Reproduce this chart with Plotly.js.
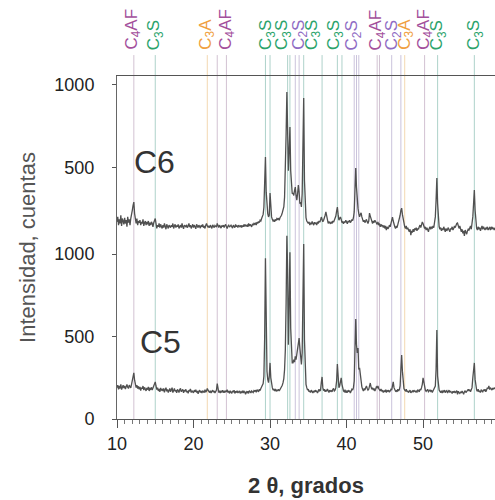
<!DOCTYPE html>
<html>
<head>
<meta charset="utf-8">
<script src="https://cdn.plot.ly/plotly-3.0.1.min.js"></script>
<style>html,body{margin:0;padding:0;background:#fff;}#chart{width:495px;height:500px;}</style>
</head>
<body>
<div id="chart"></div>
<script>
// 2θ sampling: start and step (degrees)
var thetaStart = 10.0;
var thetaStep = 0.1;

// Sample C5 (lower trace), counts, one row per degree
var c5 = [
190,205,180,200,185,210,178,195,205,188,
200,182,198,210,192,185,205,195,188,210,
230,265,280,235,200,190,205,185,198,180,
195,172,190,185,200,175,192,180,170,188,
178,195,170,185,180,192,175,188,200,215,
225,200,178,190,170,182,165,188,175,180,
170,185,162,178,190,168,180,160,175,185,
165,178,190,160,172,185,168,175,158,180,
172,160,178,185,165,170,180,158,175,168,
180,162,170,155,175,168,182,160,172,165,
158,175,165,178,160,170,152,168,175,160,
170,158,172,165,160,178,162,170,185,175,
165,160,172,158,168,175,162,170,158,166,
175,215,170,160,172,158,168,162,175,160,
168,160,172,165,178,160,170,155,168,162,
158,170,162,175,155,168,160,172,158,165,
170,155,165,160,172,158,168,162,150,165,
160,168,155,172,162,158,170,165,160,172,
168,175,162,178,170,165,180,172,185,195,
205,215,260,500,975,560,290,240,220,260,
340,250,205,190,175,180,170,182,168,175,
172,180,170,178,185,190,205,220,245,300,
420,700,1110,900,450,700,1010,550,380,340,
340,360,345,380,360,400,430,460,490,430,
360,330,400,650,1060,480,260,210,190,175,
180,165,172,160,175,168,158,170,162,175,
165,172,158,168,180,170,175,220,255,190,
172,180,165,175,168,182,170,160,175,168,
172,165,178,185,170,175,190,230,333,240,
190,200,230,250,210,180,170,165,178,160,
168,160,175,165,172,158,170,180,175,190,
230,380,606,450,400,430,300,310,260,210,
195,180,170,185,175,190,200,185,175,180,
200,218,195,180,190,175,185,170,180,195,
190,200,185,178,170,182,168,175,160,172,
165,178,160,172,168,175,162,170,180,175,
195,225,190,175,168,172,165,180,170,178,
200,300,388,290,210,185,175,170,180,165,
172,160,168,175,158,165,170,162,175,168,
165,172,160,178,170,165,180,175,190,210,
250,215,190,175,168,172,180,165,170,175,
168,175,160,172,180,190,200,300,540,260,
190,175,168,160,172,158,170,165,175,160,
168,172,158,165,175,160,170,162,155,168,
160,170,158,165,172,150,168,160,155,165,
158,170,162,150,165,172,160,168,175,180,
170,178,165,185,190,250,290,340,240,195,
175,168,180,165,172,160,175,170,165,178,
170,180,165,175,190,185,200,178,190,182,
175,188,180,190,182
];

// Sample C6 (upper trace), counts, one row per degree
var c6 = [
170,200,150,185,160,210,145,190,175,155,
195,160,180,140,200,165,185,150,190,210,
240,270,290,220,175,160,190,150,175,165,
180,150,170,160,185,145,165,175,150,170,
155,175,145,165,150,170,160,140,165,175,
190,160,130,150,140,160,135,155,145,130,
150,135,160,140,125,155,145,130,150,140,
135,150,140,160,130,145,155,135,148,140,
155,130,145,150,135,160,140,128,150,145,
140,152,135,145,160,138,150,130,145,155,
135,150,140,128,155,145,135,150,140,132,
150,140,155,135,145,130,150,160,145,138,
145,135,150,140,130,152,142,135,148,140,
138,160,145,135,150,140,132,148,140,150,
135,148,155,140,130,145,150,138,142,150,
140,132,150,145,135,155,140,148,135,150,
145,138,150,135,148,140,155,142,150,145,
150,140,160,145,155,148,140,158,150,160,
155,165,150,168,160,172,165,180,175,190,
200,215,260,380,563,350,240,220,200,210,
345,260,200,185,175,180,170,185,178,190,
185,192,180,195,200,210,225,240,260,320,
450,700,957,650,480,600,745,480,360,340,
345,330,360,381,330,302,340,393,350,280,
290,260,340,650,920,420,240,195,175,165,
160,170,150,165,155,172,160,150,168,158,
165,150,170,160,175,168,180,199,185,170,
180,190,210,230,200,170,160,172,165,158,
170,160,175,168,180,190,205,235,260,215,
180,190,199,185,165,170,158,172,165,180,
170,158,175,168,180,165,172,185,178,195,
230,340,496,380,300,250,220,200,215,225,
200,185,170,180,165,175,185,170,160,175,
223,205,185,170,160,175,165,180,170,160,
155,169,150,160,140,155,145,150,135,148,
130,145,120,140,128,135,150,140,160,175,
199,175,150,140,130,145,135,150,165,180,
210,240,253,215,180,150,140,130,145,125,
135,120,110,125,90,115,105,125,110,130,
120,135,115,130,125,140,150,135,160,169,
160,145,130,140,120,135,125,110,130,140,
125,140,130,145,135,160,200,300,436,280,
180,140,125,135,115,130,120,140,125,110,
130,115,125,135,120,110,130,125,140,120,
130,145,135,150,160,163,140,130,145,120,
110,125,100,115,85,120,105,95,115,125,
120,130,145,125,150,200,280,363,240,160,
130,120,140,125,135,115,130,145,125,140,
130,120,135,125,140,120,130,135,120,140,
125,135,130,120,135
];

// vertical shift of the C6 pattern on the shared axis
var c6Offset = 1025;

// y tick values and labels
var yTickVals = [0, 500, 1000, 1525, 2025];
var yTickText = ["0", "500", "1000", "500", "1000"];

// phase reference lines (2θ) and their phase
var phaseLineX = [12.2, 15.0, 21.8, 23.1, 24.3, 29.4, 30.0, 32.3, 32.6, 33.3, 33.8, 34.4, 36.8, 38.8, 39.4, 41.0, 41.3, 41.6, 44.0, 44.3, 45.9, 47.1, 47.6, 50.2, 51.9, 56.7];
var phaseLineType = ["C4AF","C3S","C3A","C4AF","C4AF","C3S","C3S","C3S","C3S","C2S","C2S","C3S","C3S","C3S","C3S","C2S","C2S","C2S","C4AF","C4AF","C2S","C2S","C3A","C4AF","C3S","C3S"];

// phase labels at top
var phaseLabelX = [12.1, 15.0, 21.8, 24.4, 29.6, 31.7, 33.9, 35.6, 38.5, 40.9, 44.1, 46.1, 47.8, 50.3, 52.0, 56.8];
var phaseLabelType = ["C4AF","C3S","C3A","C4AF","C3S","C3S","C2S","C3S","C3S","C2S","C4AF","C2S","C3A","C4AF","C3S","C3S"];

var phaseText = {C4AF: "C<sub>4</sub>AF", C3S: "C<sub>3</sub>S", C3A: "C<sub>3</sub>A", C2S: "C<sub>2</sub>S"};
var phaseColor = {C4AF: "#a3509c", C3S: "#2ba36b", C3A: "#f0a040", C2S: "#8f6cc4"};
var phaseLineColor = {C4AF: "#d2c2d2", C3S: "#aed2ca", C3A: "#f3d8b2", C2S: "#cbc3dc"};

var c6Shifted = c6.map(function (v) { return v + c6Offset; });

var FONT = "Arial, 'Liberation Sans', sans-serif";

var traces = [
  {type: "scatter", mode: "lines", x0: thetaStart, dx: thetaStep, y: c5,
   line: {color: "#505050", width: 1.3}, hoverinfo: "skip", showlegend: false},
  {type: "scatter", mode: "lines", x0: thetaStart, dx: thetaStep, y: c6Shifted,
   line: {color: "#505050", width: 1.3}, hoverinfo: "skip", showlegend: false}
];

var shapes = phaseLineX.map(function (x, i) {
  return {type: "line", xref: "x", yref: "paper", x0: x, x1: x, y0: 0, y1: 1.061,
          line: {color: phaseLineColor[phaseLineType[i]], width: 1}, layer: "below"};
});

var annotations = phaseLabelX.map(function (x, i) {
  return {xref: "x", yref: "paper", x: x, y: 1.07, xanchor: "center", yanchor: "bottom",
          text: phaseText[phaseLabelType[i]], textangle: -90, showarrow: false,
          font: {family: FONT, size: 17, color: phaseColor[phaseLabelType[i]]}};
});
annotations.push({xref: "paper", yref: "y", x: 0.1, y: 1560, text: "C6", showarrow: false,
  xanchor: "center", yanchor: "middle", font: {family: FONT, size: 32, color: "#333"}});
annotations.push({xref: "paper", yref: "y", x: 0.115, y: 465, text: "C5", showarrow: false,
  xanchor: "center", yanchor: "middle", font: {family: FONT, size: 32, color: "#333"}});

var layout = {
  width: 495, height: 500,
  margin: {l: 117, r: 0, t: 76, b: 81, pad: 0},
  paper_bgcolor: "#fff", plot_bgcolor: "#fff",
  showlegend: false,
  font: {family: FONT, color: "#222"},
  xaxis: {
    range: [10, 59.4], tickvals: [10, 20, 30, 40, 50], ticktext: ["10", "20", "30", "40", "50"],
    ticks: "outside", ticklen: 8, tickwidth: 1, tickcolor: "#555",
    minor: {dtick: 1, tick0: 10, ticks: "outside", ticklen: 4, tickcolor: "#777", showgrid: false},
    showline: true, linecolor: "#555", linewidth: 1, mirror: true,
    showgrid: false, zeroline: false,
    tickfont: {family: FONT, size: 18, color: "#222"},
    title: {text: "<b>2 θ, grados</b>", font: {family: FONT, size: 22, color: "#333"}, standoff: 25}
  },
  yaxis: {
    range: [0, 2079], tickvals: yTickVals, ticktext: yTickText,
    ticks: "outside", ticklen: 4, tickcolor: "#555",
    showline: true, linecolor: "#666", linewidth: 1,
    showgrid: false, zeroline: false, ticklabelstandoff: 14,
    tickfont: {family: FONT, size: 18, color: "#222"},
    title: {text: "Intensidad, cuentas", font: {family: FONT, size: 22, color: "#555"}, standoff: 12}
  },
  shapes: shapes,
  annotations: annotations
};

Plotly.newPlot("chart", traces, layout, {displayModeBar: false, staticPlot: true});
</script>
</body>
</html>
